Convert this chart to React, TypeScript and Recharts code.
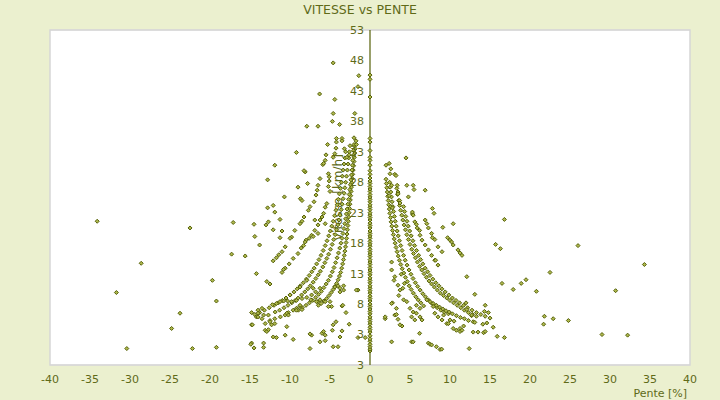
import {
  ScatterChart,
  Scatter,
  XAxis,
  YAxis,
  CartesianGrid,
  ReferenceLine,
  ReferenceDot,
  ReferenceArea,
  Label,
} from "recharts";

const OLIVE = "#556008";
const TEXT = "#5f6a18";
const BG = "#ebf0cf";

const penteTicks = [-40, -35, -30, -25, -20, -15, -10, -5, 0, 5, 10, 15, 20, 25, 30, 35, 40];
const vitesseTicks = [-2, 3, 8, 13, 18, 23, 28, 33, 38, 43, 48, 53];
const vitesseTickLabels = ["3", "3", "8", "13", "18", "23", "28", "33", "38", "43", "48", "53"];

// vitesses relevees a pente nulle
const vitessePenteNulle = [
  0.3, 0.6, 1.0, 1.4, 1.9, 2.3, 2.8, 3.4, 3.8, 4.2, 4.7, 5.1, 5.5, 5.9, 6.4, 6.8, 7.2, 7.6, 8.0,
  8.5, 8.9, 9.3, 9.8, 10.2, 10.6, 11.0, 11.5, 11.9, 12.3, 12.8, 13.2, 13.6, 14.0, 14.5, 14.9,
  15.3, 15.8, 16.2, 16.6, 17.0, 17.5, 17.9, 18.3, 18.8, 19.2, 19.6, 20.0, 20.5, 20.9, 21.3, 21.8,
  22.2, 22.6, 23.0, 23.5, 23.9, 24.3, 24.8, 25.2, 25.6, 26.0, 26.5, 26.9, 27.3, 27.8, 28.2, 28.7,
  29.3, 29.9, 30.8, 31.6, 32.1, 33.2, 34.6, 35.2, 42.0, 44.9, 45.6,
];

// [pente, vitesse] — montees
const monteeA = [
  [2.0, 28.5], [2.05, 27.8], [2.1, 27.1], [2.16, 26.4], [2.22, 25.7], [2.28, 25.0], [2.34, 24.3],
  [2.41, 23.6], [2.48, 22.9], [2.56, 22.2], [2.64, 21.5], [2.73, 20.8], [2.82, 20.1], [2.92, 19.4],
  [3.03, 18.7], [3.14, 18.0], [3.26, 17.3], [3.39, 16.6], [3.53, 15.9], [3.68, 15.2], [3.85, 14.5],
  [4.03, 13.8], [4.22, 13.1], [4.43, 12.4], [4.66, 11.7], [4.9, 11.0], [5.15, 10.4], [5.42, 9.8],
  [5.72, 9.2], [6.02, 8.7], [6.35, 8.2], [6.7, 7.7],
];
const monteeB = [
  [2.45, 28], [2.52, 27.2], [2.6, 26.4], [2.68, 25.6], [2.76, 24.8], [2.85, 24], [2.95, 23.2],
  [3.05, 22.4], [3.16, 21.6], [3.28, 20.8], [3.4, 20], [3.53, 19.2], [3.68, 18.4], [3.84, 17.6],
  [4.01, 16.8], [4.2, 16], [4.4, 15.2], [4.63, 14.4], [4.88, 13.6], [5.12, 12.9], [5.38, 12.2],
  [5.67, 11.5], [5.96, 10.9], [6.27, 10.3], [6.6, 9.7], [6.92, 9.2], [7.28, 8.7], [7.65, 8.2],
  [8.0, 7.8], [8.4, 7.4], [8.85, 7.0], [9.3, 6.7], [9.8, 6.4],
];
const monteeC = [
  [3.35, 27], [3.45, 26], [3.58, 25], [3.7, 24.2], [3.83, 23.4], [3.97, 22.6], [4.1, 21.8],
  [4.26, 21], [4.43, 20.2], [4.6, 19.4], [4.8, 18.6], [5.0, 17.8], [5.22, 17], [5.44, 16.3],
  [5.68, 15.6], [5.93, 14.9], [6.2, 14.2], [6.47, 13.6], [6.75, 13], [7.05, 12.4], [7.38, 11.8],
  [7.7, 11.3], [8.05, 10.8], [8.42, 10.3], [8.8, 9.8], [9.2, 9.4], [9.6, 9.0], [10.0, 8.6],
  [10.45, 8.2], [10.9, 7.8], [11.35, 7.4], [11.8, 7.0], [12.3, 6.6], [12.8, 6.3], [13.3, 6.0],
];
const monteeD = [
  [4.2, 24], [4.33, 23.2], [4.47, 22.4], [4.62, 21.6], [4.78, 20.8], [4.96, 20], [5.15, 19.2],
  [5.36, 18.4], [5.58, 17.6], [5.82, 16.8], [6.08, 16], [6.33, 15.3], [6.6, 14.6], [6.9, 13.9],
  [7.2, 13.3], [7.5, 12.7], [7.85, 12.1], [8.22, 11.5], [8.6, 11.0], [8.98, 10.5], [9.4, 10.0],
  [9.85, 9.5], [10.3, 9.0], [10.75, 8.6], [11.2, 8.2], [11.7, 7.8], [12.2, 7.4], [12.75, 7.0],
  [13.3, 6.6], [13.85, 6.3], [14.4, 6.0], [15.0, 5.7],
];
const monteeE = [
  [7.1, 8.7], [7.5, 8.4], [7.9, 8.1], [8.3, 7.8], [8.7, 7.5], [9.1, 7.2], [9.5, 6.9], [9.9, 6.7],
  [10.3, 6.4], [10.8, 6.1], [11.3, 5.8], [11.8, 5.6], [12.3, 5.3], [12.9, 5.1],
  [5.3, 22.8], [5.6, 21.5], [5.9, 20.5], [6.25, 19.3], [6.5, 18.5], [6.9, 17.7], [7.3, 16.9],
  [7.7, 16.0], [8.1, 15.2], [8.5, 14.4],
  [6.9, 21.8], [7.1, 21.2], [7.3, 20.5], [7.7, 19.6], [8.1, 18.6], [8.5, 17.4], [9.0, 16.6],
  [7.8, 23.7], [8.0, 22.9], [9.1, 20.6], [9.7, 18.9], [10.0, 18.5], [10.2, 18.2], [10.4, 17.7],
  [11.0, 16.9], [11.25, 16.4], [11.5, 16.0],
];
const monteeIsoles = [
  [2.0, 30.8], [2.4, 31.1], [2.6, 30.2], [2.5, 29.4], [3.1, 29.3], [3.25, 29.1], [4.5, 32.0],
  [2.7, 27.5], [3.4, 27.5], [4.6, 27.5], [5.4, 27.5], [5.5, 26.8], [6.9, 26.7], [3.5, 26.4],
  [3.5, 26.1], [4.8, 25.6], [2.4, 25.8], [3.7, 25.0], [3.75, 24.6], [5.3, 23.1], [5.4, 22.6],
  [5.8, 21.1], [6.2, 20.1], [10.4, 21.2], [2.6, 24.0], [2.8, 23.8],
  [2.7, 14.9], [2.7, 13.6], [3.1, 12.5], [3.0, 11.9], [3.5, 11.1], [3.75, 10.3], [3.3, 7.3],
  [3.1, 6.2], [2.8, 8.2], [3.5, 5.5], [4.0, 4.4], [2.7, 1.8], [5.2, 1.8], [6.2, 3.2], [7.3, 1.6],
  [7.5, 1.4], [8.3, 1.0], [8.75, 0.55], [8.96, 0.6], [12.4, 0.7], [4.2, 8.7], [4.6, 8.4],
  [5.0, 7.3], [5.4, 6.7], [5.2, 5.9], [5.8, 7.8], [6.25, 7.3], [5.8, 6.5], [6.25, 5.9], [6.5, 5.4],
  [5.6, 5.4], [7.9, 7.6], [8.1, 6.5], [8.5, 5.9], [9.0, 5.4], [9.2, 6.2], [9.6, 4.8], [10.0, 5.4],
  [10.4, 4.0], [10.8, 3.7], [11.25, 4.0], [11.7, 4.4], [11.25, 3.5], [11.5, 3.7], [10.5, 5.2],
  [9.8, 4.8], [12.1, 12.5], [13.1, 9.6], [12.0, 8.2], [12.1, 7.1], [7.8, 18.9], [8.2, 15.2],
  [1.9, 5.6], [1.9, 5.9], [2.7, 8.1], [3.3, 6.3], [5.4, 1.8], [7.7, 1.3], [3.75, 4.6],
  [3.9, 12.9], [4.3, 11.4], [4.1, 10.6], [3.6, 9.4],
  [16.8, 21.9], [15.7, 17.8], [16.3, 17.1], [26.0, 17.6], [34.3, 14.5], [22.5, 13.2], [19.5, 12.0],
  [16.5, 11.4], [18.9, 11.4], [17.9, 10.4], [20.8, 10.1], [30.7, 10.2], [14.4, 7.8], [14.3, 6.8],
  [14.8, 6.6], [21.8, 6.0], [22.9, 5.6], [24.8, 5.3], [21.7, 4.7], [12.7, 6.1], [13.1, 5.0],
  [14.1, 4.7], [14.6, 4.9], [15.4, 4.2], [12.9, 3.4], [13.5, 3.4], [14.2, 3.3], [14.4, 3.5],
  [15.9, 2.7], [16.8, 2.5], [29.0, 3.0], [32.2, 2.9], [12.7, 6.2],
];

// [pente, vitesse] — descentes
const descenteA = [
  [-1.85, 33.5], [-1.9, 32.8], [-1.95, 32.1], [-2.0, 31.4], [-2.05, 30.7], [-2.1, 30.0],
  [-2.16, 29.3], [-2.22, 28.6], [-2.28, 27.9], [-2.32, 27.2], [-2.36, 26.5], [-2.41, 25.8],
  [-2.46, 25.1], [-2.51, 24.4], [-2.56, 23.7], [-2.61, 23.0], [-2.66, 22.3], [-2.71, 21.6],
  [-2.76, 20.9], [-2.82, 20.2], [-2.87, 19.5], [-2.93, 18.8], [-2.99, 18.1], [-3.06, 17.4],
  [-3.14, 16.7], [-3.22, 16.0], [-3.31, 15.3], [-3.42, 14.6], [-3.54, 13.9], [-3.67, 13.2],
  [-3.82, 12.6], [-3.98, 12.0], [-4.17, 11.4], [-4.38, 10.9], [-4.6, 10.4], [-4.85, 9.9],
  [-5.12, 9.4], [-5.42, 8.9], [-5.75, 8.5], [-6.1, 8.1], [-6.45, 7.8],
];
const descenteB = [
  [-2.0, 34.0], [-2.05, 33.2], [-2.1, 32.4], [-2.15, 31.6], [-2.2, 30.8], [-2.26, 30.0],
  [-2.32, 29.2], [-2.39, 28.4], [-2.45, 27.6], [-2.52, 26.8], [-2.6, 26.0], [-2.68, 25.2],
  [-2.77, 24.4], [-2.86, 23.6], [-2.95, 22.8], [-3.05, 22.0], [-3.15, 21.2], [-3.26, 20.4],
  [-3.38, 19.6], [-3.5, 18.8], [-3.63, 18.0], [-3.78, 17.2], [-3.94, 16.4], [-4.11, 15.6],
  [-4.3, 14.8], [-4.5, 14.0], [-4.71, 13.3], [-4.95, 12.6], [-5.2, 11.9], [-5.48, 11.3],
  [-5.77, 10.7], [-6.08, 10.1], [-6.42, 9.6], [-6.78, 9.1], [-7.16, 8.6], [-7.57, 8.2],
  [-8.0, 7.8], [-8.45, 7.4], [-8.95, 7.0],
];
const descenteC = [
  [-2.5, 34], [-2.58, 33], [-2.66, 32], [-2.74, 31], [-2.83, 30], [-2.93, 29], [-3.04, 28],
  [-3.14, 27.1], [-3.24, 26.2], [-3.36, 25.3], [-3.48, 24.4], [-3.6, 23.5], [-3.74, 22.6],
  [-3.88, 21.8], [-4.02, 21.0], [-4.18, 20.2], [-4.35, 19.4], [-4.53, 18.6], [-4.73, 17.8],
  [-4.94, 17.0], [-5.17, 16.2], [-5.4, 15.5], [-5.64, 14.8], [-5.9, 14.1], [-6.2, 13.4],
  [-6.47, 12.8], [-6.77, 12.2], [-7.1, 11.6], [-7.45, 11.0], [-7.78, 10.5], [-8.15, 10.0],
  [-8.55, 9.5], [-8.98, 9.0], [-9.35, 8.6], [-9.78, 8.2], [-10.25, 7.8], [-10.75, 7.4],
  [-11.3, 7.0], [-11.85, 6.7],
];
const descenteD = [
  [-3.05, 33], [-3.14, 32], [-3.24, 31], [-3.35, 30], [-3.46, 29], [-3.57, 28], [-3.7, 27],
  [-3.83, 26.1], [-3.96, 25.2], [-4.1, 24.3], [-4.25, 23.4], [-4.42, 22.5], [-4.6, 21.6],
  [-4.78, 20.8], [-4.96, 20], [-5.16, 19.2], [-5.37, 18.4], [-5.6, 17.6], [-5.85, 16.8],
  [-6.12, 16], [-6.38, 15.3], [-6.67, 14.6], [-6.98, 13.9], [-7.28, 13.3], [-7.6, 12.7],
  [-7.95, 12.1], [-8.33, 11.5], [-8.7, 11.0], [-9.1, 10.5], [-9.5, 10.0], [-9.98, 9.5],
  [-10.5, 9.0], [-10.95, 8.6], [-11.45, 8.2], [-12.0, 7.8], [-12.6, 7.4], [-13.2, 7.0],
  [-13.8, 6.6], [-14.4, 6.3],
];
const descenteE = [
  [-5.0, 26.5], [-5.1, 28.2], [-5.1, 28.9], [-5.2, 29.4], [-5.2, 27.3], [-5.4, 24.5],
  [-5.6, 23.9], [-5.8, 22.9], [-6.0, 22.3], [-6.25, 21.8], [-6.5, 21.0], [-6.9, 20.1],
  [-7.3, 19.3], [-7.6, 18.8], [-8.0, 18.5], [-8.3, 17.6], [-8.6, 17.2], [-9.0, 16.3],
  [-9.6, 15.5], [-10.1, 14.6], [-10.6, 13.9], [-11.0, 13.2],
  [-6.25, 28.6], [-6.5, 27.5], [-6.6, 26.7], [-6.75, 25.9], [-7.0, 24.8], [-7.5, 24.0],
  [-7.7, 23.4], [-8.25, 22.3], [-8.5, 21.6], [-8.75, 21.2], [-9.4, 20.1], [-9.8, 19.0],
  [-10.0, 18.8], [-10.6, 17.4], [-11.0, 16.6], [-11.4, 16.1], [-11.7, 15.6], [-12.1, 15.1],
  [-6.25, 10.6], [-6.8, 10.0], [-7.3, 9.5], [-7.9, 9.1], [-8.5, 8.9], [-9.2, 8.6], [-9.8, 8.4],
  [-10.3, 8.5], [-10.8, 8.5], [-11.7, 8.1], [-12.2, 7.9],
  [-8.75, 7.6], [-9.2, 7.3], [-9.6, 7.0], [-10.2, 6.6], [-10.6, 6.2], [-11.2, 5.9], [-11.9, 5.6],
  [-12.5, 5.3],
];
const descenteIsoles = [
  [-34.1, 21.6], [-31.7, 9.9], [-30.4, 0.7], [-28.6, 14.7], [-24.8, 4.0], [-23.75, 6.5],
  [-22.5, 20.5], [-22.2, 0.7], [-19.7, 11.9], [-19.2, 8.5], [-19.2, 0.9], [-17.1, 21.4],
  [-17.3, 16.2], [-15.6, 15.9], [-14.2, 13.0], [-14.5, 21.1], [-14.4, 19.1], [-13.8, 17.7],
  [-12.8, 28.4], [-11.9, 30.8], [-9.2, 32.9], [-10.7, 25.6], [-12.8, 23.8], [-12.1, 24.2],
  [-11.9, 23.1], [-12.7, 21.5], [-13.0, 21.0], [-12.1, 20.2], [-11.0, 20.0], [-11.25, 18.9],
  [-11.25, 21.9], [-9.0, 27.2], [-8.7, 25.3], [-8.5, 25.0], [-8.1, 29.7], [-7.8, 27.8],
  [-8.25, 29.9], [-7.9, 37.2], [-6.5, 37.2], [-6.3, 42.5], [-4.6, 47.6], [-4.4, 41.6],
  [-4.6, 39.3], [-4.7, 38.0], [-3.8, 37.5], [-1.9, 39.3], [-1.4, 45.5], [-1.5, 43.7],
  [-4.2, 35.2], [-3.5, 35.2], [-4.2, 34.6], [-3.5, 34.8], [-5.3, 34.2], [-2.0, 35.3],
  [-1.75, 34.8], [-2.0, 34.2], [-1.7, 34.2], [-4.25, 33.6], [-3.2, 33.5], [-5.5, 32.5],
  [-4.6, 32.1], [-4.4, 32.7], [-2.9, 32.1], [-2.6, 32.5], [-5.6, 31.6], [-5.9, 30.9],
  [-5.8, 31.1], [-10.8, 13.7], [-8.1, 18.2], [-7.1, 19.1], [-6.5, 19.6], [-6.9, 21.8],
  [-5.6, 21.2], [-12.9, 11.7], [-12.5, 11.3], [-7.9, 11.9], [-7.1, 10.6], [-8.75, 10.8],
  [-10.0, 9.5], [-11.25, 8.4], [-10.4, 6.5], [-10.2, 6.2], [-14.0, 7.0], [-13.5, 7.3],
  [-14.0, 6.5], [-14.8, 6.6], [-14.2, 5.9], [-13.3, 6.2], [-12.7, 6.2], [-14.8, 4.6],
  [-13.1, 4.8], [-12.5, 5.1], [-12.3, 4.6], [-11.9, 4.8], [-13.1, 3.7], [-12.9, 3.5],
  [-12.7, 3.8], [-12.1, 2.6], [-11.7, 2.5], [-10.6, 2.9], [-10.4, 4.3], [-9.6, 2.2],
  [-9.2, 7.0], [-8.75, 7.8], [-8.5, 7.1], [-7.3, 2.9], [-6.0, 3.2], [-5.8, 3.5], [-5.6, 2.9],
  [-6.25, 1.8], [-4.6, 4.6], [-3.75, 2.6], [-3.5, 3.6], [-2.6, 4.7], [-3.5, 7.7], [-4.8, 7.6],
  [-5.0, 8.4], [-4.4, 10.8], [-4.0, 11.0], [-3.75, 10.6], [-3.3, 10.3], [-1.5, 10.3],
  [-14.8, 1.6], [-13.3, 1.6], [-13.3, 0.9], [-14.5, 0.8], [-7.5, 0.7], [-4.6, 1.0], [-4.0, 1.0],
  [-14.9, 1.4], [-14.7, 4.6], [-13.5, 5.6], [-14.0, 5.9], [-7.5, 3.1], [-5.6, 2.0], [-4.7, 3.7],
  [-4.25, 5.1], [-3.0, 6.6], [-3.4, 7.8], [-5.2, 7.6], [-3.3, 11.0], [-3.75, 10.0], [-1.7, 10.3],
  [-1.5, 2.5], [-0.6, 2.5], [-6.5, 8.4], [-6.25, 8.7], [-7.4, 8.7], [-6.7, 8.4], [-5.6, 8.4],
];

const points = [
  ...vitessePenteNulle.map((v) => [0, v]),
  ...monteeA, ...monteeB, ...monteeC, ...monteeD, ...monteeE, ...monteeIsoles,
  ...descenteA, ...descenteB, ...descenteC, ...descenteD, ...descenteE, ...descenteIsoles,
].map(([pente, vitesse]) => ({ pente, vitesse }));

function Losange(props: any) {
  const { cx, cy } = props;
  if (cx == null || cy == null) return null;
  const r = 2;
  return (
    <polygon
      points={`${cx},${cy - r} ${cx + r},${cy} ${cx},${cy + r} ${cx - r},${cy}`}
      fill="#aeb84c"
      stroke={OLIVE}
      strokeWidth={1}
    />
  );
}

function TitreVitesse(props: any) {
  const vb = props.viewBox ?? {};
  const x = (vb.x ?? 0) - 32;
  const y = (vb.y ?? 0) + (vb.height ?? 0) / 2;
  return (
    <text
      x={x}
      y={y}
      transform={`rotate(-90 ${x} ${y})`}
      textAnchor="middle"
      dominantBaseline="central"
      fill={TEXT}
      fontSize={12}
    >
      Vitesse [km/h]
    </text>
  );
}

export default function App() {
  return (
    <div
      style={{
        position: "absolute",
        left: 0,
        top: 0,
        width: 720,
        height: 400,
        background: BG,
        fontFamily: "'DejaVu Sans', sans-serif",
      }}
    >
      <div
        style={{
          position: "absolute",
          top: 2,
          left: 0,
          width: 720,
          textAlign: "center",
          fontSize: 12.5,
          lineHeight: "15px",
          color: TEXT,
        }}
      >
        VITESSE vs PENTE
      </div>
      <ScatterChart width={720} height={400} margin={{ top: 30, right: 30, bottom: 0, left: 50 }}>
        <CartesianGrid
          vertical={false}
          stroke="#dedede"
          horizontalFill={["#ffffff", "#f2f2f2"]}
          fillOpacity={1}
        />
        <XAxis
          type="number"
          dataKey="pente"
          domain={[-40, 40]}
          ticks={penteTicks}
          interval={0}
          axisLine={false}
          tickLine={false}
          tickMargin={4}
          height={35}
          tick={{ fill: TEXT, fontSize: 11 }}
        >
          <Label value="Pente [%]" position="insideBottomRight" offset={3} fill={TEXT} fontSize={11} />
        </XAxis>
        <YAxis
          type="number"
          dataKey="vitesse"
          domain={[-2, 53]}
          ticks={vitesseTicks}
          interval={0}
          width={0}
          axisLine={false}
          tickLine={false}
          tick={false}
        />
        <ReferenceArea x1={-40} x2={40} y1={-2} y2={53} fill="none" stroke="#d6d6d6" strokeWidth={1.5} />
        <ReferenceLine x={0} stroke={OLIVE} strokeWidth={1.2} label={TitreVitesse} />
        {vitesseTicks.map((t, i) => (
          <ReferenceDot
            key={t}
            x={0}
            y={t}
            r={0}
            fill="none"
            stroke="none"
            ifOverflow="visible"
            label={{ value: vitesseTickLabels[i], position: "left", offset: 6, fill: TEXT, fontSize: 11 }}
          />
        ))}
        <Scatter data={points} shape={Losange} isAnimationActive={false} />
      </ScatterChart>
    </div>
  );
}
